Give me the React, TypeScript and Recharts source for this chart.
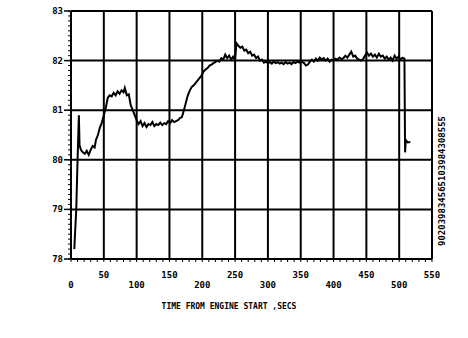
import React from 'react';
import { LineChart, Line, XAxis, YAxis, ReferenceLine } from 'recharts';

// seconds since engine start
const times = [
  5, 8, 10, 12, 13, 15, 18, 21, 24, 27, 30, 33, 36, 38, 41, 44, 47, 50, 53, 56,
  59, 62, 65, 68, 71, 74, 77, 80, 82, 85, 88, 91, 94, 97, 100, 103, 106, 109, 112, 115,
  118, 121, 124, 127, 130, 133, 136, 139, 142, 145, 148, 151, 154, 157, 160, 163, 166, 169, 172, 175,
  178, 181, 184, 187, 190, 193, 196, 199, 202, 205, 208, 211, 214, 217, 220, 223, 226, 229, 232, 235,
  238, 241, 244, 247, 250, 252, 255, 258, 261, 264, 267, 270, 273, 276, 279, 282, 285, 288, 291, 294,
  297, 300, 303, 306, 309, 312, 315, 318, 321, 324, 327, 330, 333, 336, 339, 342, 345, 348, 351, 355,
  358, 361, 364, 367, 370, 373, 376, 379, 382, 385, 388, 391, 394, 397, 400, 403, 406, 409, 412, 415,
  418, 421, 424, 427, 430, 433, 436, 439, 442, 445, 448, 451, 454, 457, 460, 463, 466, 469, 472, 475,
  478, 481, 484, 487, 490, 493, 496, 499, 502, 505, 508, 509, 510, 513, 517,
];

const readings = [
  78.2, 79.0, 80.0, 80.9, 80.3, 80.2, 80.15, 80.12, 80.18, 80.1, 80.2, 80.28, 80.25, 80.4, 80.5, 80.65, 80.75, 80.9, 81.05, 81.25,
  81.3, 81.28, 81.35, 81.3, 81.38, 81.33, 81.4, 81.36, 81.45, 81.3, 81.32, 81.1, 81.0, 80.9, 80.8, 80.72, 80.78, 80.68, 80.74, 80.66,
  80.72, 80.7, 80.76, 80.68, 80.72, 80.7, 80.75, 80.7, 80.74, 80.72, 80.78, 80.74, 80.8, 80.76, 80.78, 80.8, 80.84, 80.86, 81.0, 81.15,
  81.3, 81.4, 81.47, 81.5, 81.55, 81.6, 81.65, 81.7, 81.78, 81.82, 81.85, 81.9, 81.92, 81.95, 81.97, 82.0, 81.98, 82.05, 82.02, 82.12,
  82.05, 82.1, 82.02, 82.08, 82.0, 82.35, 82.3, 82.26, 82.28, 82.2, 82.22, 82.15, 82.18, 82.1, 82.12, 82.05, 82.08, 82.0, 82.02, 81.96,
  81.98, 81.95, 81.97, 81.94, 81.98, 81.95, 81.97, 81.94, 81.96, 81.93, 81.97, 81.94, 81.96, 81.93, 81.97, 81.95, 81.98, 81.96, 81.99, 81.95,
  81.9, 81.92, 81.98, 82.02, 81.98, 82.04, 82.0, 82.06, 82.02, 82.05, 82.0, 82.04, 81.98, 82.02, 82.0, 82.04, 82.02, 82.06, 82.03, 82.05,
  82.1, 82.06, 82.12, 82.18, 82.08, 82.1, 82.04, 82.02, 82.0, 82.03, 82.1, 82.16, 82.1, 82.14, 82.08, 82.12, 82.06, 82.14, 82.08, 82.1,
  82.04, 82.08, 82.02, 82.06, 82.0, 82.1, 82.04, 82.08, 82.02, 82.06, 82.04, 80.15, 80.4, 80.35, 80.36,
];

const xMajor = [0, 50, 100, 150, 200, 250, 300, 350, 400, 450, 500, 550];
const yMajor = [78, 79, 80, 81, 82, 83];
const xMinor = Array.from({ length: 56 }, (_, i) => i * 10);
const yMinor = Array.from({ length: 51 }, (_, i) => Math.round((78 + i * 0.1) * 10) / 10);

const xTitle = 'TIME FROM ENGINE START ,SECS';
const sideCode = '902039834565103984308555';

const data = times.map((t, i) => ({ t, v: readings[i] }));

const font = "'DejaVu Sans Mono', monospace";

const XTick = ({ x, y, payload }: any) => {
  const v = payload.value;
  if (v % 50 !== 0) return <g />;
  const lower = (v / 50) % 2 === 0;
  return (
    <text x={x} y={y + (lower ? 24 : 14)} textAnchor="middle" fontFamily={font}
      fontWeight="bold" fontSize={9} fill="#000">{v}</text>
  );
};

const YTick = ({ x, y, payload }: any) => {
  const v = payload.value;
  if (Math.abs(v - Math.round(v)) > 0.01) return <g />;
  return (
    <g>
      <line x1={x - 2} x2={x + 4} y1={y} y2={y} stroke="#000" strokeWidth={1.5} />
      <text x={x - 3} y={y + 3} textAnchor="end" fontFamily={font}
        fontWeight="bold" fontSize={9} fill="#000">{Math.round(v)}</text>
    </g>
  );
};

export default function App() {
  return (
    <div style={{ position: 'absolute', left: 0, top: 0, background: '#fff' }}>
      <LineChart width={468} height={338} data={data}
        margin={{ top: 11, right: 0, bottom: 29, left: 0 }}>
        <XAxis dataKey="t" type="number" domain={[0, 550]} ticks={xMinor}
          interval={0} height={50} tick={<XTick />} tickSize={3}
          tickLine={{ stroke: '#000', strokeWidth: 1 }} axisLine={{ stroke: '#000', strokeWidth: 2 }}
          label={{
            content: () => (
              <text x={229} y={309} textAnchor="middle" fontFamily={font}
                fontWeight="bold" fontSize={8} fill="#000">{xTitle}</text>
            ),
          }} />
        <YAxis type="number" domain={[78, 83]} ticks={yMinor} interval={0}
          width={71} tick={<YTick />} tickSize={3}
          tickLine={{ stroke: '#000', strokeWidth: 1 }} axisLine={{ stroke: '#000', strokeWidth: 2 }} />
        <YAxis yAxisId="side" orientation="right" width={36} tick={false} axisLine={false}
          label={{
            content: () => (
              <text x={445} y={181} textAnchor="middle" transform="rotate(-90 445 181)"
                fontFamily={font} fontWeight="bold" fontSize={9} fill="#000">{sideCode}</text>
            ),
          }} />
        {xMajor.slice(1).map((v) => (
          <ReferenceLine key={`x${v}`} x={v} stroke="#000" strokeWidth={2} ifOverflow="extendDomain" />
        ))}
        {yMajor.slice(1).map((v) => (
          <ReferenceLine key={`y${v}`} y={v} stroke="#000" strokeWidth={2} />
        ))}
        <Line dataKey="v" type="linear" stroke="#000" strokeWidth={2} dot={false}
          isAnimationActive={false} />
      </LineChart>
    </div>
  );
}
